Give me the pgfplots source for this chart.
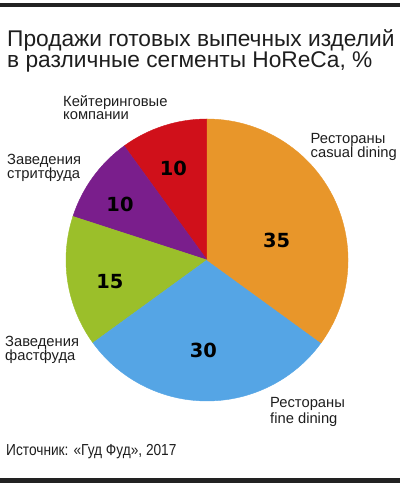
\documentclass[border=0pt]{standalone}
\usepackage{pgfplots}
\pgfplotsset{compat=1.18}
\usepackage{pgfplotstable}
\usepackage{fontspec}
\setmainfont{Liberation Sans}
\newfontfamily\narrowfont[FakeStretch=0.86]{Liberation Sans}
\newfontfamily\numfont{DejaVu Sans}
\definecolor{cOrange}{HTML}{E8962A}
\definecolor{cBlue}{HTML}{55A5E5}
\definecolor{cGreen}{HTML}{9BBF2A}
\definecolor{cPurple}{HTML}{7A1E8C}
\definecolor{cRed}{HTML}{D0101A}
\definecolor{cLine}{HTML}{222222}
\definecolor{cText}{HTML}{1E1E1E}

% value = share in %, cum = cumulative share before the slice (counter-clockwise from 12 o'clock)
\pgfplotstableread{
x y value cum col lx ly
0 0 10 0  cRed    -0.239  0.650
0 0 10 10 cPurple -0.617  0.397
0 0 15 20 cGreen  -0.688 -0.154
0 0 30 35 cBlue   -0.026 -0.638
0 0 35 65 cOrange  0.494  0.142
}\piedata

\begin{document}
\begin{tikzpicture}[x=1bp,y=1bp]
\useasboundingbox (0,0) rectangle (400,488);
% rules top and bottom
\fill[cLine] (0,482.3) rectangle (400,484.7);
\fill[cLine] (0,480.6) rectangle (400,481.6);
\fill[cLine] (0,8.3) rectangle (400,9.5);
\fill[cLine] (0,4.7) rectangle (400,7.5);

\begin{axis}[
  at={(207bp,228bp)}, anchor=center,
  scale only axis, width=282bp, height=282bp,
  xmin=-1, xmax=1, ymin=-1, ymax=1,
  hide axis, clip=false,
]
\addplot[
  scatter, only marks, mark=*, mark size=0pt,
  mark options={draw=none, fill=none},
  point meta=explicit symbolic,
  visualization depends on={\thisrow{value} \as \valv},
  visualization depends on={\thisrow{cum} \as \cumv},
  visualization depends on={\thisrow{lx} \as \lxv},
  visualization depends on={\thisrow{ly} \as \lyv},
  scatter/@pre marker code/.code={%
    \pgfmathsetmacro\sa{90+3.6*\cumv}%
    \pgfmathsetmacro\ea{90+3.6*(\cumv+\valv)}%
    \pgfmathtruncatemacro\vallabel{round(\valv)}%
    \edef\slicecol{\pgfplotspointmeta}%
    \fill[\slicecol] (0bp,0bp) -- (\sa:141bp) arc[start angle=\sa, end angle=\ea, radius=141bp] -- cycle;
    \node[font=\numfont\bfseries\fontsize{19.5}{19.5}\selectfont, text=black] at ({\lxv*141bp},{\lyv*141bp}) {\vallabel};
  },
  scatter/@post marker code/.code={},
] table[x=x, y=y, meta=col] {\piedata};
\end{axis}

% title
\node[anchor=base west, inner sep=0, text=cText, font=\fontsize{22.8}{24}\selectfont] at (7,441.3) {Продажи готовых выпечных изделий};
\node[anchor=base west, inner sep=0, text=cText, font=\fontsize{22.8}{24}\selectfont] at (7,420) {в различные сегменты HoReCa, \%};

% slice labels
\begin{scope}[every node/.style={anchor=base west, inner sep=0, text=cText, font=\fontsize{14.8}{14.8}\selectfont}]
\node at (63,381.8) {Кейтеринговые};
\node at (63,368.2) {компании};
\node at (7,323.5) {Заведения};
\node at (7,309.5) {стритфуда};
\node at (310.5,344.3) {Рестораны};
\node at (310.5,330.8) {casual dining};
\node at (5,141.5) {Заведения};
\node at (5,127.3) {фастфуда};
\node at (270,80.2) {Рестораны};
\node at (270,64.7) {fine dining};
\end{scope}

% source
\node[anchor=base west, inner sep=0, text=cText, font=\narrowfont\fontsize{16}{16}\selectfont] at (6,32) {Источник: «Гуд Фуд», 2017};
\end{tikzpicture}
\end{document}
